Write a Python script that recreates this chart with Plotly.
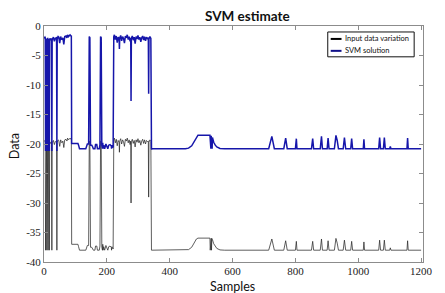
import plotly.graph_objects as go

# ---------------- data ----------------
sample_x = [
    0, 3, 4, 5, 6, 7, 8, 9, 10, 11, 12, 13, 14, 15, 16, 17, 18, 21, 24, 25,
    26, 30, 33, 36, 40, 41, 42, 45, 47, 50, 53, 55, 57, 60, 63, 66, 70, 73, 75, 78,
    80, 83, 86, 87,
    88, 108, 110, 113, 133, 135, 138, 142, 144, 146, 148, 152, 155, 157, 162, 164, 168, 170, 176, 178,
    180, 182, 184, 186, 187, 188, 190, 193, 197, 200, 203, 206, 210, 214, 215, 216, 218, 220,
    222, 224, 227, 230, 233, 236, 239, 240, 241, 244, 247, 250, 253, 256, 259, 262, 265, 268, 271, 274,
    276, 277, 278, 281, 284, 287, 290, 293, 296, 299, 302, 305, 308, 311, 314, 317, 320, 323, 326, 329,
    332, 333, 334, 337, 340, 342, 343,
    345, 450, 460, 470, 478, 485, 490, 528, 529, 530, 531, 532, 533, 534, 535, 536, 540, 545, 550, 560,
    575, 715, 725, 733, 763, 769, 774, 800, 803, 805, 851, 855, 858, 879, 883, 886, 901, 904, 907, 924,
    929, 933, 937, 952, 956, 960, 976, 979, 982, 1016, 1018, 1020, 1065, 1068, 1071, 1080, 1083, 1086, 1100, 1102,
    1104, 1155, 1157, 1159, 1200,
]

input_y = [
    -19.6, -19.4, -19.5, -38, -19.8, -38, -19.6, -38, -20.0, -38,
    -19.5, -38, -19.7, -38, -20.2, -38, -19.6, -19.9, -19.6, -38,
    -19.8, -19.4, -20.1, -19.6, -19.5, -38, -19.7, -19.3, -19.4, -20.4,
    -19.3, -19.6, -19.8, -19.5, -20.6, -19.3, -19.2, -19.5, -19.0, -19.3,
    -19.1, -19.0, -19.2, -19.1,
    -37.0, -37.0, -37.4, -38.0, -38.0, -37.6, -37.2, -37.2, -19.5, -19.6,
    -37.5, -37.5, -37.8, -38.0, -38.0, -37.3, -37.3, -38.0, -38.0, -37.3,
    -19.5, -19.6, -37.5, -38.0, -37.0, -38.0, -37.4, -38.0, -37.2, -37.6,
    -38.0, -37.4, -37.3, -37.5, -38.0, -37.4, -37.6, -37.8,
    -19.3, -19.0, -19.8, -19.2, -20.3, -19.4, -19.7, -21.4, -19.5, -19.1,
    -20.0, -19.3, -19.6, -20.4, -19.2, -19.5, -19.0, -19.8, -19.3, -20.1,
    -19.5, -30.0, -19.6, -19.2, -19.9, -19.4, -20.5, -19.3, -19.7, -19.1,
    -19.8, -19.4, -20.2, -19.5, -19.2, -19.9, -19.3, -20.0, -19.4, -19.6,
    -19.5, -29.0, -19.7, -19.3, -19.6, -38.0, -38.0,
    -38.0, -38.0, -37.9, -37.5, -36.8, -36.1, -35.95, -35.95, -38.0, -36.0,
    -38.0, -36.0, -38.0, -36.0, -38.0, -36.2, -36.9, -37.4, -37.7, -37.95,
    -38.0, -38.0, -36.1, -38.0, -38.0, -36.4, -38.0, -38.0, -36.5, -38.0,
    -38.0, -36.5, -38.0, -38.0, -36.1, -38.0, -38.0, -36.4, -38.0, -38.0,
    -36.0, -36.8, -38.0, -38.0, -36.3, -38.0, -38.0, -36.5, -38.0, -38.0,
    -36.6, -38.0, -38.0, -36.3, -38.0, -38.0, -36.3, -38.0, -38.0, -37.6,
    -38.0, -38.0, -36.4, -38.0, -38.0,
]

svm_y = [
    -2.1, -1.9, -2.0, -21.2, -2.3, -21.2, -2.1, -21.2, -2.5, -21.2,
    -2.0, -21.2, -2.2, -21.2, -2.7, -21.2, -2.1, -2.4, -2.1, -21.2,
    -2.3, -1.9, -2.6, -2.1, -2.0, -21.2, -2.2, -1.8, -1.9, -2.9,
    -1.8, -2.1, -2.3, -2.0, -3.1, -1.8, -1.7, -2.0, -1.5, -1.8,
    -1.6, -1.5, -1.7, -1.6,
    -19.9, -19.9, -20.2, -20.8, -20.8, -20.4, -20.0, -20.0, -1.8, -2.0,
    -20.2, -20.2, -20.5, -20.8, -20.8, -20.1, -20.1, -20.8, -20.8, -20.1,
    -1.8, -2.0, -20.2, -20.8, -19.8, -20.8, -20.2, -20.8, -20.0, -20.4,
    -20.8, -20.2, -20.1, -20.3, -20.8, -20.2, -20.4, -20.6,
    -1.8, -1.5, -2.3, -1.7, -2.8, -1.9, -2.2, -3.9, -2.0, -1.6,
    -2.5, -1.8, -2.1, -2.9, -1.7, -2.0, -1.5, -2.3, -1.8, -2.6,
    -2.0, -12.7, -2.1, -1.7, -2.4, -1.9, -3.0, -1.8, -2.2, -1.6,
    -2.3, -1.9, -2.7, -2.0, -1.7, -2.4, -1.8, -2.5, -1.9, -2.1,
    -2.0, -11.5, -2.2, -1.8, -2.1, -20.9, -20.8,
    -20.8, -20.8, -20.7, -20.3, -19.6, -18.9, -18.5, -18.5, -20.8, -18.6,
    -20.8, -18.6, -20.8, -18.6, -20.8, -18.9, -19.7, -20.2, -20.5, -20.75,
    -20.8, -20.8, -18.7, -20.8, -20.8, -19.0, -20.8, -20.8, -19.1, -20.8,
    -20.8, -19.1, -20.8, -20.8, -18.7, -20.8, -20.8, -19.0, -20.8, -20.8,
    -18.55, -19.4, -20.8, -20.8, -18.9, -20.8, -20.8, -19.1, -20.8, -20.8,
    -19.2, -20.8, -20.8, -18.9, -20.8, -20.8, -18.9, -20.8, -20.8, -20.4,
    -20.8, -20.8, -19.0, -20.8, -20.8,
]

x_ticks = [0, 200, 400, 600, 800, 1000, 1200]
x_tick_labels = ["0", "200", "400", "600", "800", "1000", "1200"]
y_ticks = [0, -5, -10, -15, -20, -25, -30, -35, -40]
y_tick_labels = ["0", "-5", "-10", "-15", "-20", "-25", "-30", "-35", "-40"]

series_names = ["Input data variation", "SVM solution"]
series_colors = ["#2a2a2a", "#1616aa"]
legend_colors = ["#000000", "#10108a"]

# ---------------- figure ----------------
fig = go.Figure()
fig.add_trace(go.Scatter(x=sample_x, y=input_y, mode="lines", name=series_names[0],
                         line=dict(color=series_colors[0], width=0.75), showlegend=False))
fig.add_trace(go.Scatter(x=sample_x, y=svm_y, mode="lines", name=series_names[1],
                         line=dict(color=series_colors[1], width=1.5), showlegend=False))

axis_common = dict(showline=True, linecolor="#8c8c8c", linewidth=1, mirror="ticks",
                   ticks="inside", ticklen=4, tickcolor="#8c8c8c", showgrid=False,
                   zeroline=False, tickfont=dict(family="Liberation Serif", size=11, color="#222"))

fig.update_xaxes(range=[0, 1206], tickvals=x_ticks, ticktext=x_tick_labels,
                 ticklabelstandoff=-1, **axis_common)
fig.update_yaxes(range=[-40, 0], tickvals=y_ticks, ticktext=y_tick_labels, **axis_common)

# manual legend (MATLAB style)
fig.add_shape(type="rect", xref="paper", yref="paper", x0=0.7487, x1=0.9767, y0=0.8694, y1=0.9747,
              line=dict(color="#111", width=1), fillcolor="white", layer="above")
leg_y = [0.9452, 0.8947]
for name, col, yy in zip(series_names, legend_colors, leg_y):
    fig.add_shape(type="line", xref="paper", yref="paper", x0=0.7565, x1=0.7850, y0=yy, y1=yy,
                  line=dict(color=col, width=2), layer="above")
    fig.add_annotation(xref="paper", yref="paper", x=0.7890, y=yy, text=name, showarrow=False,
                       xanchor="left", yanchor="middle",
                       font=dict(family="Lato", size=7.5, color="#111"))

fig.add_annotation(xref="paper", yref="paper", x=0.536, y=1.042, text="<b>SVM estimate</b>",
                   showarrow=False, xanchor="center", yanchor="middle",
                   font=dict(family="Lato", size=13.5, color="#111"))
fig.add_annotation(xref="paper", yref="paper", x=0.497, y=-0.104, text="Samples",
                   showarrow=False, xanchor="center", yanchor="middle",
                   font=dict(family="Lato", size=12.5, color="#111"))
fig.add_annotation(xref="paper", yref="paper", x=-0.077, y=0.49, text="Data", textangle=-90,
                   showarrow=False, xanchor="center", yanchor="middle",
                   font=dict(family="Lato", size=12.5, color="#111"))

# the page body adds an 8 px offset, so the figure is laid out 8 px smaller
fig.update_layout(width=437, height=285, margin=dict(l=36, r=15, t=17, b=31),
                  paper_bgcolor="white", plot_bgcolor="white")

fig.write_html("out.html")
